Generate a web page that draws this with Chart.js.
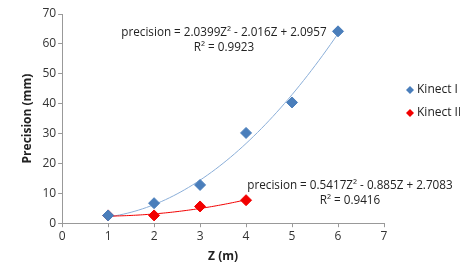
<!DOCTYPE html>
<html>
<head>
<meta charset="utf-8">
<script src="https://cdn.jsdelivr.net/npm/chart.js@4"></script>
<style>
  html, body { margin: 0; padding: 0; background: #fff; }
  #wrap { width: 460px; height: 266px; }
</style>
</head>
<body>
<div id="wrap"><canvas id="chart"></canvas></div>
<script>
const zK1 = [1, 2, 3, 4, 5, 6];
const precisionK1 = [2.6, 6.7, 12.8, 30.2, 40.4, 64.2];
const zK2 = [1, 2, 3, 4];
const precisionK2 = [2.6, 2.6, 5.6, 7.7];

// trendline coefficients as printed on the chart (a*Z^2 + b*Z + c)
const fitK1 = [2.0399, -2.016, 2.0957];
const fitK2 = [0.5417, -0.885, 2.7083];
const eqK1 = ['precision = 2.0399Z\u00b2 - 2.016Z + 2.0957', 'R\u00b2 = 0.9923'];
const eqK2 = ['precision = 0.5417Z\u00b2 - 0.885Z + 2.7083', 'R\u00b2 = 0.9416'];

const seriesNames = ['Kinect I', 'Kinect II'];
const blue = '#4a7ebb';
const red = '#f20000';
const fontFamily = "'Open Sans', 'Liberation Sans', sans-serif";

function toPoints(xs, ys) {
  return xs.map((x, i) => ({ x: x, y: ys[i] }));
}

// draws the fitted curve from the printed coefficients, via the chart scales
const trendPlugin = {
  id: 'trend',
  beforeDatasetsDraw(chart) {
    const ctx = chart.ctx;
    const xs = chart.scales.x, ys = chart.scales.y;
    const curves = [
      { c: fitK1, from: zK1[0], to: zK1[zK1.length - 1], color: '#8aaed8' },
      { c: fitK2, from: zK2[0], to: zK2[zK2.length - 1], color: red }
    ];
    ctx.save();
    curves.forEach(cv => {
      ctx.beginPath();
      ctx.strokeStyle = cv.color;
      ctx.lineWidth = 1;
      const steps = 60;
      for (let i = 0; i <= steps; i++) {
        const z = cv.from + (cv.to - cv.from) * i / steps;
        const p = cv.c[0] * z * z + cv.c[1] * z + cv.c[2];
        const px = xs.getPixelForValue(z), py = ys.getPixelForValue(p);
        if (i === 0) ctx.moveTo(px, py); else ctx.lineTo(px, py);
      }
      ctx.stroke();
    });
    ctx.restore();
  },
  afterDraw(chart) {
    const ctx = chart.ctx;
    const xs = chart.scales.x, ys = chart.scales.y;
    ctx.save();
    ctx.fillStyle = '#222';
    ctx.font = '11.7px ' + fontFamily;
    ctx.textAlign = 'center';
    ctx.textBaseline = 'middle';
    // equation labels
    let cx = xs.getPixelForValue(3.52), cy = ys.getPixelForValue(63.6);
    ctx.fillText(eqK1[0], cx, cy);
    ctx.fillText(eqK1[1], cx, cy + 15);
    cx = xs.getPixelForValue(6.26); cy = ys.getPixelForValue(12.5);
    ctx.fillText(eqK2[0], cx, cy);
    ctx.fillText(eqK2[1], cx, cy + 15);
    // legend
    const lx = 410, colors = [blue, red], lys = [90, 113];
    ctx.textAlign = 'left';
    ctx.font = '12px ' + fontFamily;
    seriesNames.forEach((n, i) => {
      const y = lys[i];
      ctx.beginPath();
      ctx.moveTo(lx, y - 4); ctx.lineTo(lx + 4, y); ctx.lineTo(lx, y + 4); ctx.lineTo(lx - 4, y);
      ctx.closePath();
      ctx.fillStyle = colors[i];
      ctx.fill();
      ctx.fillStyle = '#222';
      ctx.fillText(n, lx + 7, y);
    });
    ctx.restore();
  }
};

new Chart(document.getElementById('chart'), {
  type: 'scatter',
  data: {
    datasets: [
      {
        label: seriesNames[0],
        data: toPoints(zK1, precisionK1),
        pointStyle: 'rectRot',
        pointRadius: 5.5,
        backgroundColor: blue,
        borderColor: blue
      },
      {
        label: seriesNames[1],
        data: toPoints(zK2, precisionK2),
        pointStyle: 'rectRot',
        pointRadius: 5.5,
        backgroundColor: red,
        borderColor: red
      }
    ]
  },
  options: {
    responsive: true,
    maintainAspectRatio: false,
    animation: false,
    layout: { padding: { left: 20, top: 14, right: 76, bottom: 2 } },
    plugins: {
      legend: { display: false },
      tooltip: { enabled: false }
    },
    scales: {
      x: {
        type: 'linear',
        min: 0, max: 7,
        ticks: { stepSize: 1, color: '#333', font: { family: fontFamily, size: 12 }, padding: 2 },
        grid: { drawOnChartArea: false, tickLength: 4, color: '#999' },
        border: { color: '#999' },
        title: { display: true, text: 'Z (m)', color: '#222', font: { family: fontFamily, size: 12, weight: 'bold' }, padding: { top: 4, bottom: 0 } }
      },
      y: {
        min: 0, max: 70,
        ticks: { stepSize: 10, color: '#333', font: { family: fontFamily, size: 12 }, padding: 2 },
        grid: { drawOnChartArea: false, tickLength: 4, color: '#999' },
        border: { color: '#999' },
        title: { display: true, text: 'Precision (mm)', color: '#222', font: { family: fontFamily, size: 12, weight: 'bold' }, padding: { top: 0, bottom: 6 } }
      }
    }
  },
  plugins: [trendPlugin]
});
</script>
</body>
</html>
